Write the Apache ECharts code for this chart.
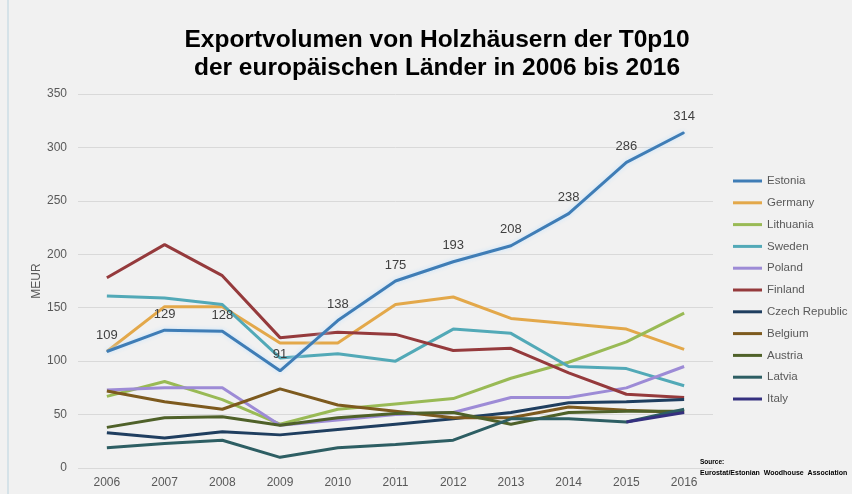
<!DOCTYPE html>
<html>
<head>
<meta charset="utf-8">
<title>Exportvolumen von Holzhäusern</title>
<script src="https://cdn.jsdelivr.net/npm/echarts@6/dist/echarts.min.js"></script>
<style>
  html, body { margin: 0; padding: 0; background: #f1f1f1; }
  #box { width: 852px; height: 494px; }
</style>
</head>
<body>
<div id="box"></div>
<script>
var years = ['2006', '2007', '2008', '2009', '2010', '2011', '2012', '2013', '2014', '2015', '2016'];

var estonia   = [109, 129, 128, 91, 138, 175, 193, 208, 238, 286, 314];
var germany   = [109, 151, 151, 117, 117, 153, 160, 140, 135, 130, 111];
var lithuania = [67, 81, 64, 41, 55, 60, 65, 84, 99, 118, 145];
var sweden    = [161, 159, 153, 103, 107, 100, 130, 126, 95, 93, 77];
var poland    = [73, 75, 75, 40, 45, 50, 52, 66, 66, 75, 95];
var finland   = [178, 209, 180, 122, 127, 125, 110, 112, 89, 69, 66];
var czech     = [33, 28, 34, 31, 36, 41, 46, 52, 61, 62, 64];
var belgium   = [72, 62, 55, 74, 59, 53, 47, 47, 57, 54, 52];
var austria   = [38, 47, 48, 40, 47, 51, 52, 41, 52, 53, 53];
var latvia    = [19, 23, 26, 10, 19, 22, 26, 46, 46, 43, 55];
var italy     = [null, null, null, null, null, null, null, null, null, 43, 52];

var yTicks = [0, 50, 100, 150, 200, 250, 300, 350];

var chart = echarts.init(document.getElementById('box'));

function line(name, data, color) {
  return {
    name: name,
    type: 'line',
    data: data,
    symbol: 'none',
    lineStyle: { color: color, width: 3 },
    itemStyle: { color: color }
  };
}

var series = [
  line('Estonia', estonia, '#3f7db6'),
  line('Germany', germany, '#e3a84a'),
  line('Lithuania', lithuania, '#99ba55'),
  line('Sweden', sweden, '#52a9b7'),
  line('Poland', poland, '#9d8bd6'),
  line('Finland', finland, '#953a3c'),
  line('Czech Republic', czech, '#1f3e5f'),
  line('Belgium', belgium, '#7d5a1e'),
  line('Austria', austria, '#4f6129'),
  line('Latvia', latvia, '#2d5e63'),
  line('Italy', italy, '#35307f')
];
// Estonia: Datenbeschriftung + leichter Schein, oben drauf
series[0].symbol = 'circle';
series[0].symbolSize = 1;
series[0].z = 5;
series[0].lineStyle.shadowColor = 'rgba(190,225,255,0.9)';
series[0].lineStyle.shadowBlur = 4;
series[0].label = { show: true, position: 'top', distance: 9, color: '#404040', fontSize: 13, fontFamily: 'Liberation Sans' };

chart.setOption({
  backgroundColor: '#f1f1f1',
  animation: false,
  title: {
    text: 'Exportvolumen von Holzhäusern der T0p10\nder europäischen Länder in 2006 bis 2016',
    left: 432,
    top: 21,
    textAlign: 'center',
    textStyle: { fontSize: 24.5, fontWeight: 'bold', color: '#000', fontFamily: 'Liberation Sans', lineHeight: 28 }
  },
  legend: {
    orient: 'vertical',
    left: 728,
    top: 169,
    icon: 'rect',
    itemWidth: 29,
    itemHeight: 3,
    itemGap: 7.8,
    textStyle: { color: '#595959', fontSize: 11.5, fontFamily: 'Liberation Sans', lineHeight: 14 },
    data: series.map(function (s) { return s.name; })
  },
  grid: { left: 78, right: 139, top: 94, bottom: 26 },
  xAxis: {
    type: 'category',
    data: years,
    boundaryGap: true,
    axisLine: { show: false },
    axisTick: { show: false },
    axisLabel: { color: '#595959', fontSize: 12, fontFamily: 'Liberation Sans', margin: 9 }
  },
  yAxis: {
    type: 'value',
    min: yTicks[0],
    max: yTicks[yTicks.length - 1],
    interval: 50,
    name: 'MEUR',
    nameLocation: 'middle',
    nameGap: 35,
    nameMoveOverlap: false,
    nameTextStyle: { color: '#595959', fontSize: 12, fontFamily: 'Liberation Sans' },
    axisLine: { show: false },
    axisTick: { show: false },
    axisLabel: { color: '#595959', fontSize: 12, fontFamily: 'Liberation Sans', margin: 11 },
    splitLine: { lineStyle: { color: '#d9d9d9', width: 1 } }
  },
  graphic: [
    { type: 'line', shape: { x1: 8, y1: 0, x2: 8, y2: 494 }, style: { stroke: '#b9d3df', lineWidth: 1 } },
    { type: 'text', left: 700, top: 459, style: { text: 'Source:', fontSize: 6.5, fontWeight: 'bold', fill: '#000', fontFamily: 'Liberation Sans' } },
    { type: 'text', left: 700, top: 470, style: { text: 'Eurostat/Estonian  Woodhouse  Association', fontSize: 7, fontWeight: 'bold', fill: '#000', fontFamily: 'Liberation Sans' } }
  ],
  series: series
});
</script>
</body>
</html>
